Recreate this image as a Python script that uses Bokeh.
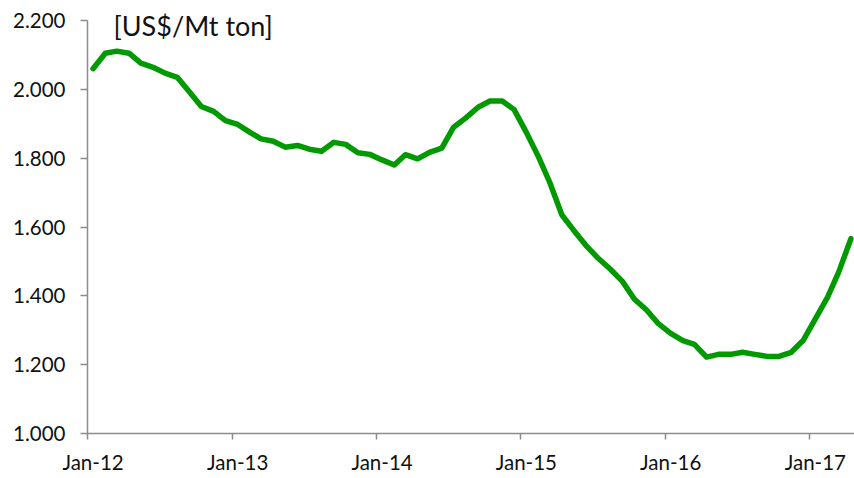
import datetime as dt
from bokeh.plotting import figure
from bokeh.models import FixedTicker, CustomJSTickFormatter, Range1d, Label
from bokeh.embed import file_html
from bokeh.resources import INLINE

# monthly values, Jan-2012 .. Apr-2017 (US$/Mt ton)
start_year = 2012
start_month = 1
values = [
    2060, 2105, 2111, 2105, 2076, 2064, 2047, 2035, 1992, 1950, 1936, 1909,
    1898, 1875, 1856, 1849, 1832, 1837, 1826, 1820, 1846, 1840, 1816, 1811,
    1795, 1780, 1810, 1798, 1817, 1829, 1890, 1917, 1948, 1966, 1966, 1941,
    1875, 1803, 1730, 1635, 1590, 1546, 1510, 1478, 1442, 1391, 1359, 1319,
    1291, 1270, 1259, 1222, 1230, 1230, 1236, 1230, 1224, 1224, 1236, 1270,
    1333, 1396, 1469, 1566,
]
year_labels = ["Jan-12", "Jan-13", "Jan-14", "Jan-15", "Jan-16", "Jan-17"]
y_ticks = [1000, 1200, 1400, 1600, 1800, 2000, 2200]
unit_label = "[US$/Mt ton]"

def ms(d):
    return (d - dt.datetime(1970, 1, 1)).total_seconds() * 1000.0

dates = []
for i in range(len(values)):
    m = start_month - 1 + i
    dates.append(dt.datetime(start_year + m // 12, m % 12 + 1, 15))

years = [start_year + k for k in range(len(year_labels))]
tick_jan1 = [ms(dt.datetime(y, 1, 1)) for y in years]
tick_mid = [ms(dt.datetime(y, 1, 15)) for y in years]
label_map = {str(int(t)): lab for t, lab in zip(tick_mid, year_labels)}

y_min, y_max = y_ticks[0], y_ticks[-1]
# a little headroom above the top tick so the unit label is not clipped
y_top = y_max + (y_max - y_min) * 12 / 413

p = figure(width=854, height=478, x_axis_type="datetime",
           output_backend="svg", toolbar_location=None,
           x_range=Range1d(ms(dt.datetime(2012, 1, 1)), ms(dt.datetime(2017, 4, 24))),
           y_range=Range1d(y_min, y_top),
           min_border_left=87, min_border_right=0,
           min_border_top=8, min_border_bottom=45)

p.line([ms(d) for d in dates], values, line_color="#009A00", line_width=5.5,
       line_join="round", line_cap="round")

p.grid.visible = False
p.outline_line_color = None
p.background_fill_color = "white"
p.border_fill_color = "white"

axis_col = "#8C8C8C"
font = "Lato"

xa = p.xaxis[0]
xa.ticker = FixedTicker(ticks=tick_mid, minor_ticks=tick_jan1)
xa.formatter = CustomJSTickFormatter(args=dict(m=label_map),
                                     code="return m[String(Math.round(tick))] || '';")
xa.axis_line_color = axis_col
xa.axis_line_width = 1.5
xa.major_tick_out = 0
xa.major_tick_in = 0
xa.minor_tick_out = 6
xa.minor_tick_in = 0
xa.minor_tick_line_color = axis_col
xa.minor_tick_line_width = 1.5
xa.major_label_text_font = font
xa.major_label_text_font_size = "20.5px"
xa.major_label_text_color = "#111111"
xa.major_label_standoff = 10

ya = p.yaxis[0]
ya.ticker = FixedTicker(ticks=y_ticks, minor_ticks=[])
ya.bounds = (y_min, y_max)
ya.formatter = CustomJSTickFormatter(
    code="return Math.round(tick).toString().replace(/\\B(?=(\\d{3})+(?!\\d))/g, '.');")
ya.axis_line_color = axis_col
ya.axis_line_width = 1.5
ya.major_tick_out = 7
ya.major_tick_in = 0
ya.major_tick_line_color = axis_col
ya.major_tick_line_width = 1.5
ya.major_label_text_font = font
ya.major_label_text_font_size = "20.5px"
ya.major_label_text_color = "#111111"
ya.major_label_standoff = 15

p.add_layout(Label(x=26, y=425 - 17, x_units="screen", y_units="screen",
                   text=unit_label, text_font=font, text_font_size="27px",
                   text_color="#111111", text_baseline="middle"))

open("out.html", "w").write(file_html(p, INLINE))
